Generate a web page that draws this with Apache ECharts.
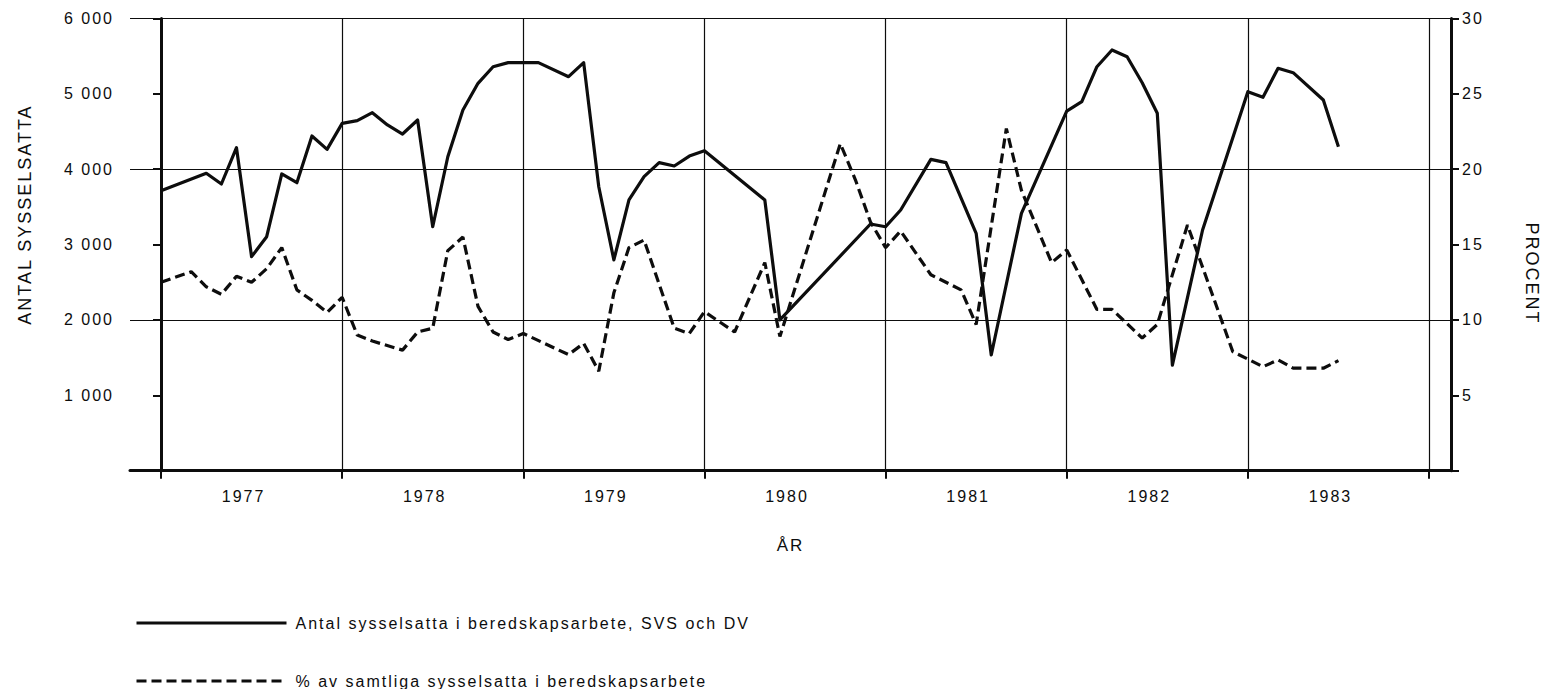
<!DOCTYPE html>
<html lang="sv">
<head>
<meta charset="utf-8">
<title>Antal sysselsatta i beredskapsarbete 1977–1983</title>
<script src="https://cdn.jsdelivr.net/npm/echarts@6/dist/echarts.min.js"></script>
<style>
  html, body { margin: 0; padding: 0; background: #fff; }
  #chart { width: 1542px; height: 689px; }
  /* the typeset original uses wide letter spacing */
  #chart text { letter-spacing: 2px; }
</style>
</head>
<body>
<div id="chart"></div>
<script>
// Monthly observations, January 1977 (index 0) to July 1983 (index 78).
// null = no observation that month; the line is drawn straight across it.
const years = ['1977', '1978', '1979', '1980', '1981', '1982', '1983'];

// Antal sysselsatta i beredskapsarbete, SVS och DV (left axis)
const antal = [
  3715, null, null, 3946, 3804, 4286, 2840, 3105, 3937, 3821, 4441, 4264,   // 1977
  4609, 4644, 4750, 4587, 4467, 4653, 3237, 4166, 4786, 5140, 5360, 5414,   // 1978
  5414, 5414, null, 5228, 5414, 3768, 2796, 3592, 3901, 4087, 4043, 4175,   // 1979
  4246, null, null, null, 3592, 2000, null, null, null, null, null, 3273,   // 1980
  3237, 3459, null, 4131, 4087, null, 3150, 1535, null, 3415, null, null,   // 1981
  4770, 4896, 5360, 5582, 5493, 5148, 4742, 1402, null, 3194, null, null,   // 1982
  5029, 4954, 5339, 5281, null, 4918, 4299                                  // 1983
];

// % av samtliga sysselsatta i beredskapsarbete (right axis)
const procent = [
  12.5, null, 13.2, 12.2, 11.7, 12.9, 12.5, 13.4, 14.8, 12.0, 11.3, 10.5,  // 1977
  11.5, 9.0, 8.6, null, 8.0, 9.2, 9.45, 14.6, 15.5, 10.9, 9.2, 8.7,        // 1978
  9.1, null, null, 7.7, 8.45, 6.6, 11.8, 14.8, 15.3, null, 9.45, 9.1,      // 1979
  10.55, null, 9.2, null, 13.8, 8.9, null, null, null, 21.7, 19.3, 16.5,   // 1980
  14.8, 15.9, null, 13.0, null, 12.0, 9.7, null, 22.7, 18.6, null, 13.8,   // 1981
  14.65, null, 10.7, 10.7, null, 8.8, 9.7, null, 16.3, null, null, 7.9,   // 1982
  null, 6.9, 7.35, 6.8, null, 6.8, 7.3                                     // 1983
];

const seriesNames = [
  'Antal sysselsatta i beredskapsarbete, SVS och DV',
  '% av samtliga sysselsatta i beredskapsarbete'
];

const FONT = 'Liberation Sans';
const INK = '#0d0d0d';

const toPairs = arr => arr.map((v, i) => [i, v]);
const yearStarts = years.map((y, i) => i * 12).concat(years.length * 12);
const yearLabelAt = years.map((y, i) => i * 12 + 5.47);

// one legend block per row, line sample followed by its caption
const legendRow = (name, top) => ({
  orient: 'horizontal',
  left: 130,
  top: top,
  itemWidth: 150,
  itemHeight: 14,
  selectedMode: false,
  itemStyle: { opacity: 0 },
  lineStyle: { width: 3 },
  textStyle: { fontFamily: FONT, fontSize: 16, color: INK, padding: [0, 0, 0, 4] },
  data: [name]
});

const chart = echarts.init(document.getElementById('chart'), null, { renderer: 'svg' });

chart.setOption({
  animation: false,
  backgroundColor: '#fff',
  textStyle: { fontFamily: FONT, color: INK },
  grid: {
    left: 130, right: 91, top: 18.5, bottom: 218.3,
    containLabel: false,
    outerBoundsMode: 'none'
  },
  legend: [legendRow(seriesNames[0], 610), legendRow(seriesNames[1], 668)],
  xAxis: {
    type: 'value',
    min: -2.054,
    max: 85.457,
    name: 'ÅR',
    nameLocation: 'middle',
    nameGap: 66,
    nameTextStyle: { fontFamily: FONT, fontSize: 17, color: INK },
    axisLine: { show: true, lineStyle: { color: INK, width: 3 } },
    axisTick: { show: true, customValues: yearStarts, length: 8, lineStyle: { color: INK, width: 2 } },
    axisLabel: {
      customValues: yearLabelAt,
      margin: 18,
      fontFamily: FONT, fontSize: 16, color: INK,
      formatter: v => years[Math.floor(v / 12)]
    },
    splitLine: { show: true, lineStyle: { color: INK, width: 1.2 } }
  },
  yAxis: [
    {
      type: 'value',
      position: 'left',
      min: 0, max: 6000, interval: 1000,
      name: 'ANTAL SYSSELSATTA',
      nameLocation: 'middle',
      nameRotate: 90,
      nameGap: 96,
      nameTextStyle: { fontFamily: FONT, fontSize: 18, color: INK, padding: [0, 0, 0, 60] },
      axisLine: { show: true, lineStyle: { color: INK, width: 3 } },
      axisTick: { show: true, length: 8, lineStyle: { color: INK, width: 2 } },
      axisLabel: {
        margin: 16, fontFamily: FONT, fontSize: 16, color: INK,
        formatter: v => v === 0 ? '' : String(v).replace(/\B(?=(\d{3})+$)/g, ' ')
      },
      splitLine: { show: false }
    },
    {
      type: 'value',
      position: 'right',
      min: 0, max: 30, interval: 5,
      name: 'PROCENT',
      nameLocation: 'middle',
      nameRotate: -90,
      nameGap: 72,
      nameTextStyle: { fontFamily: FONT, fontSize: 18, color: INK, padding: [0, 0, 0, 58] },
      axisLine: { show: true, lineStyle: { color: INK, width: 3 } },
      axisTick: { show: true, length: 8, lineStyle: { color: INK, width: 2 } },
      axisLabel: {
        margin: 11, fontFamily: FONT, fontSize: 16, color: INK,
        formatter: v => v === 0 ? '' : String(v)
      },
      splitLine: { show: false }
    },
    {
      // horizontal reference lines at 2 000 / 4 000 and the top frame
      type: 'value',
      position: 'left',
      min: 0, max: 6000, interval: 2000,
      axisLine: { show: false },
      axisTick: { show: false },
      axisLabel: { show: false },
      splitLine: { show: true, lineStyle: { color: INK, width: 1.2 } }
    }
  ],
  series: [
    {
      name: seriesNames[0],
      type: 'line',
      yAxisIndex: 0,
      data: toPairs(antal),
      connectNulls: true,
      symbol: 'none',
      lineStyle: { color: INK, width: 3.2, join: 'round' },
      itemStyle: { color: INK }
    },
    {
      name: seriesNames[1],
      type: 'line',
      yAxisIndex: 1,
      data: toPairs(procent),
      connectNulls: true,
      symbol: 'none',
      lineStyle: { color: INK, width: 3.2, type: [10, 5] },
      itemStyle: { color: INK }
    }
  ]
});
</script>
</body>
</html>
